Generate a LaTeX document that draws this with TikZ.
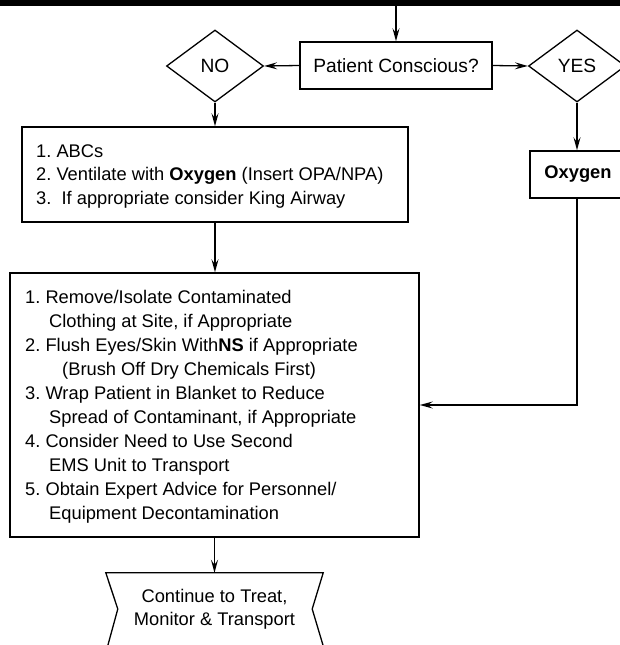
\documentclass[tikz,border=0pt]{standalone}
\usepackage{fontspec}
\setmainfont{Liberation Sans}
\usetikzlibrary{arrows.meta,shapes.geometric}
\frenchspacing
\begin{document}
\begin{tikzpicture}[x=1pt,y=-1pt,
  font=\fontsize{18.3}{24}\selectfont,
  box/.style={draw,line width=1.5pt,rectangle,inner sep=0pt},
  dia/.style={draw,line width=1.3pt,diamond,inner sep=0pt,minimum width=97,minimum height=72},
  conn/.style={line width=1.3pt,-{Stealth[length=13pt,width=7pt,inset=5pt]}},
  ln/.style={anchor=base west,inner sep=0pt}]
\useasboundingbox (0,0) rectangle (620,645);
\fill[black] (0,0) rectangle (620,6);
\coordinate (topin) at (396,6);
% top row
\node[box,minimum width=192,minimum height=47,font=\fontsize{19.2}{24}\selectfont] (pc) at (396,65.5) {Patient Conscious?};
\node[dia,font=\fontsize{19.2}{24}\selectfont] (no) at (215,66) {NO};
\node[dia,font=\fontsize{19.2}{24}\selectfont] (yes) at (577,66) {YES};
% boxes
\node[box,minimum width=386,minimum height=95] (b1) at (215,174.5) {};
\node[box,minimum width=96,minimum height=47] (ox) at (578,174.5) {\textbf{Oxygen}};
\node[box,minimum width=409,minimum height=264] (b2) at (214.5,405) {};
% box 1 text
\node[ln] (b1l1) at (36,157) {1. ABCs};
\node[ln] (b1l2) at (36,180.5) {2. Ventilate with \textbf{Oxygen} (Insert OPA/NPA)};
\node[ln] (b1l3) at (36,204) {3.\ \ If appropriate consider King Airway};
% box 2 text
\node[ln] (b2l1) at (25,303) {1. Remove/Isolate Contaminated};
\node[ln] (b2l2) at (49,327) {Clothing at Site, if Appropriate};
\node[ln] (b2l3) at (25,351) {2. Flush Eyes/Skin With\textbf{NS} if Appropriate};
\node[ln] (b2l4) at (62,375) {(Brush Off Dry Chemicals First)};
\node[ln] (b2l5) at (25,399) {3. Wrap Patient in Blanket to Reduce};
\node[ln] (b2l6) at (49,423) {Spread of Contaminant, if Appropriate};
\node[ln] (b2l7) at (25,447) {4. Consider Need to Use Second};
\node[ln] (b2l8) at (49,471) {EMS Unit to Transport};
\node[ln] (b2l9) at (25,495) {5. Obtain Expert Advice for Personnel/};
\node[ln] (b2l10) at (49,519) {Equipment Decontamination};
% continue shape
\node[minimum width=217,minimum height=72,inner sep=0pt,align=center,font=\fontsize{18.3}{23}\selectfont] (cont) at (214.5,609) {Continue to Treat,\\Monitor \& Transport};
\draw[line width=1.3pt] ([yshift=-4pt,xshift=1pt]cont.south west) -- ([xshift=12pt]cont.west) -- (cont.north west) -- (cont.north east) -- ([xshift=-11pt]cont.east) -- ([yshift=-4pt,xshift=1pt]cont.south east);
% connectors
\draw[conn] (topin) -- (pc.north);
\draw[conn] (pc.west) -- (no.east);
\draw[conn] (pc.east) -- (yes.west);
\draw[conn] (no.south) -- (b1.north);
\draw[conn] (yes.south) -- (yes.south |- ox.north);
\draw[conn] (b1.south) -- (b2.north -| b1.south);
\draw[conn] (ox.south -| yes.south) |- (b2.east);
\draw[conn] (b2.south -| cont.north) -- (cont.north);
\end{tikzpicture}
\end{document}
